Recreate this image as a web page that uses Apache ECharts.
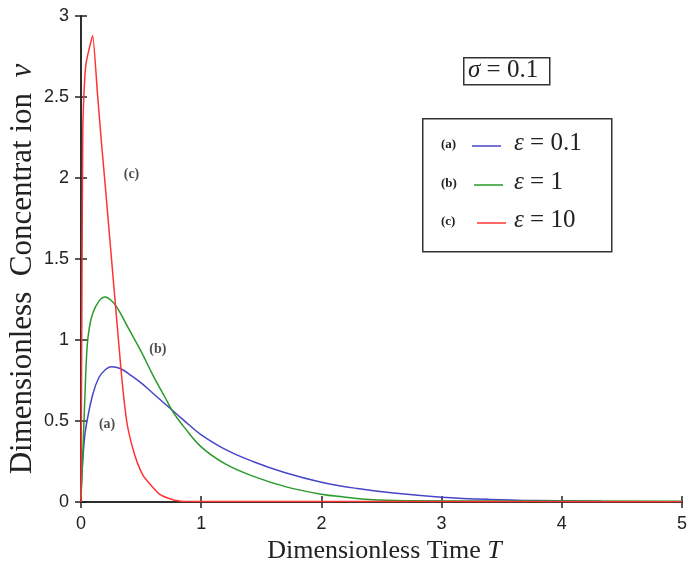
<!DOCTYPE html>
<html>
<head>
<meta charset="utf-8">
<script src="https://cdn.jsdelivr.net/npm/echarts@6/dist/echarts.min.js"></script>
<style>
html,body{margin:0;padding:0;background:#fff;}
#chart{width:687px;height:578px;}
</style>
</head>
<body>
<div id="chart"></div>
<script>
// ---- data ----
const seriesNames = ['ε = 0.1', 'ε = 1', 'ε = 10'];
const seriesTags = ['(a)', '(b)', '(c)'];
const xTickValues = [0, 1, 2, 3, 4, 5];
const yTickValues = [0, 0.5, 1, 1.5, 2, 2.5, 3];

// (a) epsilon = 0.1
const curveA = [
  [0,0.05],[0.01,0.2],[0.03,0.4],[0.05,0.5],[0.1,0.67],[0.15,0.77],[0.2,0.815],[0.25,0.835],
  [0.3,0.83],[0.35,0.815],[0.4,0.79],[0.5,0.735],[0.6,0.67],[0.7,0.605],[0.8,0.54],[0.9,0.475],
  [1.0,0.415],[1.2,0.325],[1.43,0.25],[1.7,0.18],[2.0,0.122],[2.3,0.083],[2.6,0.055],[3.0,0.03],
  [3.4,0.016],[3.8,0.009],[4.33,0.005]
];
// (b) epsilon = 1
const curveB = [
  [0,0.02],[0.01,0.2],[0.03,0.6],[0.05,0.95],[0.07,1.08],[0.1,1.17],[0.15,1.24],[0.2,1.265],
  [0.25,1.245],[0.3,1.2],[0.35,1.135],[0.4,1.065],[0.5,0.93],[0.6,0.78],[0.7,0.645],[0.77,0.55],
  [0.85,0.47],[1.0,0.34],[1.2,0.235],[1.43,0.16],[1.7,0.095],[2.0,0.048],[2.2,0.03],[2.4,0.015],
  [2.7,0.008],[3.5,0.006],[5,0.005]
];
// (c) epsilon = 10
const curveC = [
  [0,0],[0.008,1.35],[0.015,2.3],[0.03,2.6],[0.045,2.72],[0.097,2.88],[0.136,2.53],[0.17,2.22],
  [0.208,1.9],[0.24,1.62],[0.3,1.1],[0.34,0.76],[0.38,0.5],[0.42,0.36],[0.47,0.24],[0.52,0.16],
  [0.575,0.11],[0.65,0.05],[0.72,0.025],[0.83,0.005],[1.0,0.003],[5,0.002]
];
// curve tag positions (data coords)
const tagPoints = [[0.217,0.48],[0.64,0.944],[0.42,2.02]];

const colors = ['#4646c8', '#2a9a2a', '#ff3333'];

const chart = echarts.init(document.getElementById('chart'), null, {renderer:'canvas'});

const tickFont = {fontFamily:'"Liberation Sans Narrow", "Liberation Sans", Arial, sans-serif', fontSize:18, color:'#222'};
const axisLineStyle = {color:'#222', width:1.5};

function lineSeries(i, data, smooth) {
  return {
    type:'line', name:seriesNames[i], data:data, showSymbol:false, symbol:'none',
    smooth:smooth,
    lineStyle:{color:colors[i], width:1.5}, itemStyle:{color:colors[i]}, z:3
  };
}

const option = {
  backgroundColor:'#fff',
  animation:false,
  grid:{left:81, right:5, top:16, bottom:76, containLabel:false, outerBoundsMode:'none'},
  xAxis:[{
    type:'value', min:0, max:5, interval:1, position:'bottom',
    axisLine:{show:true, lineStyle:axisLineStyle},
    axisTick:{show:true, inside:true, length:6, lineStyle:axisLineStyle},
    axisLabel:Object.assign({margin:13, formatter:function(v){return xTickValues.indexOf(v)>=0? String(v):'';}}, tickFont),
    splitLine:{show:false},
    name:'Dimensionless Time {i|T}', nameLocation:'middle', nameGap:36, nameMoveOverlap:false,
    nameTextStyle:{fontFamily:'"Liberation Serif", "Times New Roman", serif', fontSize:26, color:'#222', padding:[0,0,0,6],
      rich:{i:{fontFamily:'"Liberation Serif", serif', fontStyle:'italic', fontSize:26, color:'#222'}}}
  },{
    type:'value', min:0, max:5, interval:1, position:'top',
    axisLine:{show:true, lineStyle:axisLineStyle},
    axisTick:{show:true, inside:true, length:6, lineStyle:axisLineStyle},
    axisLabel:{show:false}, splitLine:{show:false}
  }],
  yAxis:[{
    type:'value', min:0, max:3, interval:0.5, position:'left',
    axisLine:{show:true, lineStyle:axisLineStyle},
    axisTick:{show:true, inside:true, length:6, lineStyle:axisLineStyle},
    axisLabel:Object.assign({margin:12, formatter:function(v){return yTickValues.indexOf(v)>=0? String(v):'';}}, tickFont),
    splitLine:{show:false},
    name:'Dimensionless  Concentrat ion  {i|ν}', nameLocation:'middle', nameGap:43, nameRotate:90, nameMoveOverlap:false,
    nameTextStyle:{fontFamily:'"Liberation Serif", "Times New Roman", serif', fontSize:31, color:'#222', padding:[0,20,0,0],
      rich:{i:{fontFamily:'"Liberation Serif", serif', fontStyle:'italic', fontSize:31, color:'#222'}}}
  },{
    type:'value', min:0, max:3, interval:0.5, position:'right',
    axisLine:{show:true, lineStyle:axisLineStyle},
    axisTick:{show:true, inside:true, length:6, lineStyle:axisLineStyle},
    axisLabel:{show:false}, splitLine:{show:false}
  }],
  series:[
    lineSeries(0, curveA, 0.4),
    lineSeries(1, curveB, 0.4),
    lineSeries(2, curveC, 0.15),
    {
      type:'scatter', symbolSize:0, silent:true, z:4,
      data:tagPoints.map(function(p,i){return {value:p, label:{show:true, formatter:seriesTags[i]}};}),
      label:{show:true, position:'inside', fontFamily:'"Liberation Serif", serif', fontWeight:'bold', fontSize:14, color:'#222'}
    }
  ],
  graphic:[
    // sigma box
    {type:'rect', left:463, top:57, shape:{width:86, height:27}, style:{fill:'#fff', stroke:'#333', lineWidth:1.5}, z:10},
    {type:'text', left:468, top:58, z:11, style:{
      text:'{i|σ} = 0.1', fill:'#222', font:'25px "Liberation Serif", serif',
      rich:{i:{fontStyle:'italic', fontSize:25, fontFamily:'"Liberation Serif", serif', fill:'#222'}}
    }},
    // legend box
    {type:'rect', left:422, top:118, shape:{width:189, height:133}, style:{fill:'#fff', stroke:'#333', lineWidth:1.5}, z:10},
    {type:'text', left:441, top:138, z:11, style:{text:seriesTags[0], fill:'#222', font:'bold 13px "Liberation Serif", serif'}},
    {type:'text', left:441, top:177, z:11, style:{text:seriesTags[1], fill:'#222', font:'bold 13px "Liberation Serif", serif'}},
    {type:'text', left:441, top:215, z:11, style:{text:seriesTags[2], fill:'#222', font:'bold 13px "Liberation Serif", serif'}},
    {type:'line', z:11, shape:{x1:472, y1:146, x2:501, y2:146}, style:{stroke:colors[0], lineWidth:1.5}},
    {type:'line', z:11, shape:{x1:474, y1:185, x2:503, y2:185}, style:{stroke:colors[1], lineWidth:1.5}},
    {type:'line', z:11, shape:{x1:477, y1:223, x2:506, y2:223}, style:{stroke:colors[2], lineWidth:1.5}},
    {type:'text', left:514, top:131, z:11, style:{text:'{i|ε} = 0.1', fill:'#222', font:'25px "Liberation Serif", serif',
      rich:{i:{fontStyle:'italic', fontSize:25, fontFamily:'"Liberation Serif", serif', fill:'#222'}}}},
    {type:'text', left:514, top:170, z:11, style:{text:'{i|ε} = 1', fill:'#222', font:'25px "Liberation Serif", serif',
      rich:{i:{fontStyle:'italic', fontSize:25, fontFamily:'"Liberation Serif", serif', fill:'#222'}}}},
    {type:'text', left:514, top:208, z:11, style:{text:'{i|ε} = 10', fill:'#222', font:'25px "Liberation Serif", serif',
      rich:{i:{fontStyle:'italic', fontSize:25, fontFamily:'"Liberation Serif", serif', fill:'#222'}}}}
  ]
};
chart.setOption(option);
</script>
</body>
</html>
